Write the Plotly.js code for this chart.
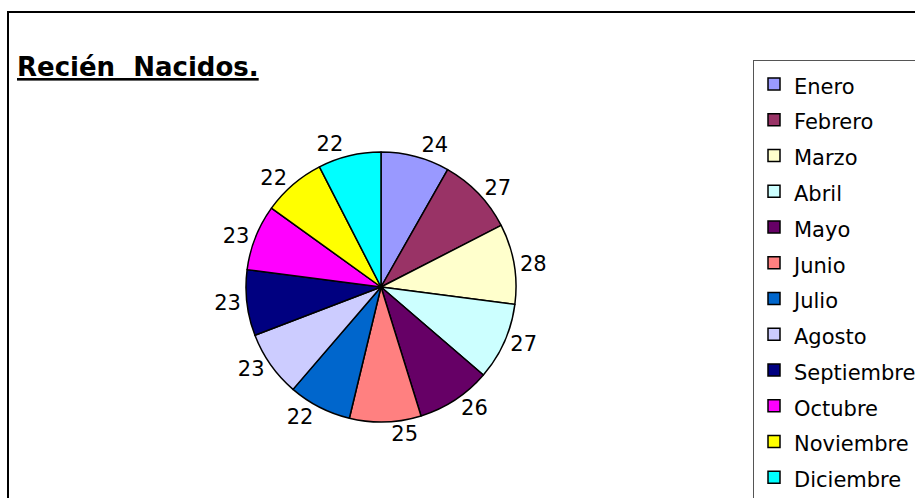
<!DOCTYPE html>
<html>
<head>
<meta charset="utf-8">
<script src="https://cdn.plot.ly/plotly-3.0.1.min.js"></script>
<style>
html,body{margin:0;padding:0;background:#fff;}
#chart{width:915px;height:498px;}
</style>
</head>
<body>
<div id="chart"></div>
<script>
const months = ["Enero","Febrero","Marzo","Abril","Mayo","Junio","Julio","Agosto","Septiembre","Octubre","Noviembre","Diciembre"];
const births = [24,27,28,27,26,25,22,23,23,23,22,22];
const sliceColors = ["#9999FF","#993366","#FFFFCC","#CCFFFF","#660066","#FF8080","#0066CC","#CCCCFF","#000080","#FF00FF","#FFFF00","#00FFFF"];
const titleText = "<u><b>Recién  Nacidos.</b></u>";

const W = 915, H = 498;
const cx = 381, cy = 287, r = 135;

const trace = {
  type: "pie",
  labels: months.map(m => '<span style="font-size:21px">' + m + '</span>'),
  values: births,
  sort: false,
  direction: "clockwise",
  rotation: 0,
  textinfo: "value",
  textposition: "outside",
  outsidetextfont: {family: "DejaVu Sans", size: 21, color: "#000"},
  marker: {colors: sliceColors, line: {color: "#000", width: 1.5}},
  domain: {x: [(cx - r) / W, (cx + r) / W], y: [(H - cy - r) / H, (H - cy + r) / H]},
  hoverinfo: "none"
};

const layout = {
  width: W, height: H,
  margin: {l: 0, r: 0, t: 0, b: 0, autoexpand: false},
  paper_bgcolor: "#fff",
  showlegend: true,
  legend: {
    x: 753 / W, xanchor: "left",
    y: 1 - 60 / H, yanchor: "top",
    font: {family: "DejaVu Sans", size: 25.2, color: "#000"},
    bordercolor: "#555", borderwidth: 1,
    bgcolor: "#fff",
    traceorder: "normal"
  },
  annotations: [{
    text: titleText,
    xref: "paper", yref: "paper",
    x: 15 / W, xanchor: "left",
    y: 1 - 67 / H, yanchor: "middle",
    showarrow: false,
    font: {family: "DejaVu Sans", size: 26, color: "#000"}
  }],
  shapes: [{
    type: "rect", xref: "paper", yref: "paper",
    x0: 8 / W, x1: 1.05, y0: -0.05, y1: 1 - 12 / H,
    line: {color: "#000", width: 2}
  }]
};

Plotly.newPlot("chart", [trace], layout, {displayModeBar: false, staticPlot: true});
</script>
</body>
</html>
